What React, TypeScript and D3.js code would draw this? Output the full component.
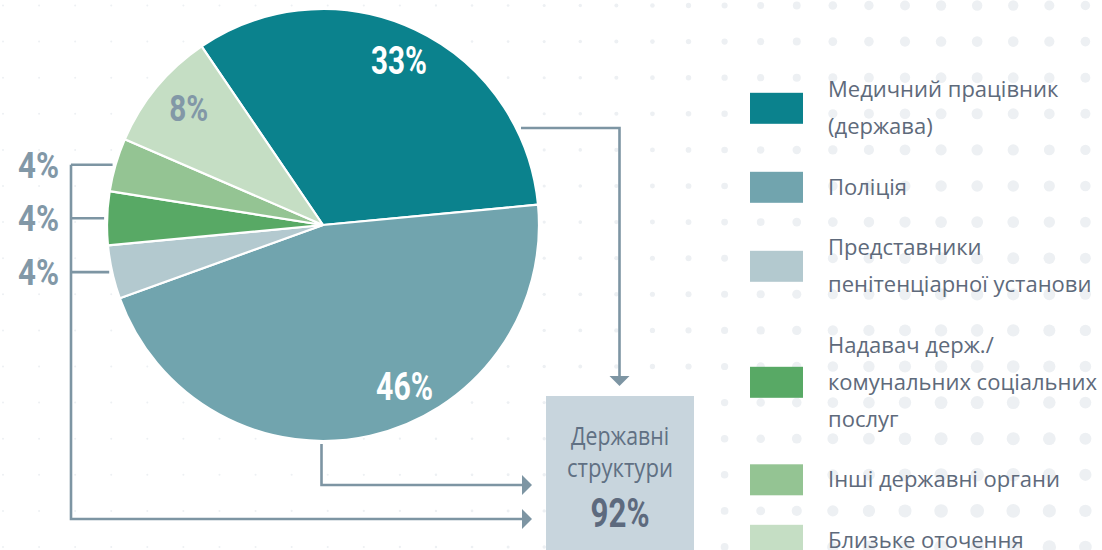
import React from 'react';
import * as d3 from 'd3';

// ---------- data ----------
const categories = [
  'Медичний працівник (держава)',
  'Поліція',
  'Представники пенітенціарної установи',
  'Надавач держ./комунальних соціальних послуг',
  'Інші державні органи',
  'Близьке оточення',
];
const legendLines = [
  ['Медичний працівник', '(держава)'],
  ['Поліція'],
  ['Представники', 'пенітенціарної установи'],
  ['Надавач держ./', 'комунальних соціальних', 'послуг'],
  ['Інші державні органи'],
  ['Близьке оточення'],
];
const shares = [33, 46, 4, 4, 4, 9];
const percentLabels = ['33%', '46%', '4%', '4%', '4%', '8%'];
const colors = ['#0b828d', '#71a4ae', '#b3c9cf', '#58a965', '#94c493', '#c5dec4'];
const insideLabel = [true, true, false, false, false, true];
const insideLabelColor = ['#ffffff', '#ffffff', '', '', '', '#8298a7'];
const totalTitle = ['Державні', 'структури'];
const totalValue = '92%';

// ---------- layout ----------
const W = 1102;
const H = 550;
const cx = 323;
const cy = 225;
const R = 216;
const startDeg = -34.2;
const lineColor = '#7d95a3';
const deg = Math.PI / 180;

export default function App() {
  const pie = d3
    .pie<number>()
    .sort(null)
    .value((d) => d)
    .startAngle(startDeg * deg)
    .endAngle(startDeg * deg + 2 * Math.PI);
  const arcs = pie(shares);
  const arc = d3.arc<d3.PieArcDatum<number>>().innerRadius(0).outerRadius(R);

  // background dots
  const dots: { x: number; y: number; r: number }[] = [];
  for (let i = 0; i <= 30; i++) {
    for (let j = 0; j <= 15; j++) {
      const x = 3 + 36.08 * i;
      const y = 5.5 + 36.1 * j;
      const fx = Math.exp(-Math.pow((x - 980) / 300, 2));
      const fy = 0.7 + 0.3 * (y / 550);
      dots.push({ x, y, r: 1 + 6 * fx * fy });
    }
  }

  const polar = (a: number, r: number) => [cx + r * Math.sin(a), cy - r * Math.cos(a)];

  // inside label placement (radius, angle shift in degrees)
  const labelRadius = [181, 181, 0, 0, 0, 178];
  const labelShift = [-0.4, -14.2, 0, 0, 0, 1.4];
  const labelSize = [38, 38, 0, 0, 0, 36.5];
  const labelLen = [56, 57, 0, 0, 0, 39];

  // outside (left) labels for small slices
  const bracketX = 71;
  const smallIdx = [4, 3, 2];
  const ticks = smallIdx.map((i) => {
    const a = (arcs[i].startAngle + arcs[i].endAngle) / 2;
    const [ex, ey] = polar(a, R);
    return { i, y: ey, xEnd: ex - 3 };
  });
  const bracketBottom = 519;
  const arrowTipX = 532;
  const arrowLen = 10;

  const policeY = 485;
  const medTopY = 128;
  const medStartX = 521;
  const boxX = 546;
  const boxW = 148;
  const boxTop = 396;
  const boxCx = boxX + boxW / 2;

  // legend
  const legX = 750;
  const legTextX = 828;
  const lineH = 37;
  const itemGap = 60.5;
  let base = 97.3;
  const legendItems = legendLines.map((lines, k) => {
    const baselines = lines.map((_, li) => base + li * lineH);
    const last = baselines[baselines.length - 1];
    const mid = (baselines[0] + last) / 2 - 7.5;
    base = last + itemGap;
    return { k, lines, baselines, mid };
  });

  const numFont = 'Roboto, "DejaVu Sans", sans-serif';
  const textFont = '"Open Sans", "Noto Sans", sans-serif';

  return (
    <svg
      width={W}
      height={H}
      style={{ position: 'absolute', left: 0, top: 0, display: 'block', background: '#fff' }}
    >
      <rect width={W} height={H} fill="#ffffff" />
      <g>
        {dots.map((d, k) => (
          <circle key={k} cx={d.x} cy={d.y} r={d.r} fill="#edf0f3" />
        ))}
      </g>

      {/* pie */}
      <g transform={`translate(${cx},${cy})`}>
        {arcs.map((a, i) => (
          <path key={i} d={arc(a) || ''} fill={colors[i]} stroke="#ffffff" strokeWidth={2.2} strokeLinejoin="round">
            <title>{categories[i]}</title>
          </path>
        ))}
      </g>

      {/* inside labels */}
      {arcs.map((a, i) => {
        if (!insideLabel[i]) return null;
        const ang = (a.startAngle + a.endAngle) / 2 + labelShift[i] * deg;
        const [lx, ly] = polar(ang, labelRadius[i]);
        return (
          <text
            key={i}
            x={lx}
            y={ly + labelSize[i] * 0.355}
            textAnchor="middle"
            fontFamily={numFont}
            fontWeight={700}
            fontSize={labelSize[i]}
            fill={insideLabelColor[i]}
            textLength={labelLen[i]}
            lengthAdjust="spacingAndGlyphs"
          >
            {percentLabels[i]}
          </text>
        );
      })}

      {/* connectors */}
      <g stroke={lineColor} strokeWidth={2.6} fill="none">
        {ticks.map((t) => (
          <line key={t.i} x1={bracketX} x2={t.xEnd} y1={t.y} y2={t.y} />
        ))}
        <polyline
          points={`${bracketX},${ticks[0].y} ${bracketX},${bracketBottom} ${arrowTipX - arrowLen},${bracketBottom}`}
        />
        <polyline
          points={`${cx - 1.5},${cy + R + 3} ${cx - 1.5},${policeY} ${arrowTipX - arrowLen},${policeY}`}
        />
        <polyline
          points={`${medStartX},${medTopY} ${boxCx - 0.5},${medTopY} ${boxCx - 0.5},${boxTop - 20}`}
        />
      </g>
      <g fill={lineColor}>
        <path d={`M${arrowTipX},${bracketBottom} L${arrowTipX - arrowLen},${bracketBottom - 10} L${arrowTipX - arrowLen},${bracketBottom + 10} Z`} />
        <path d={`M${arrowTipX},${policeY} L${arrowTipX - arrowLen},${policeY - 10} L${arrowTipX - arrowLen},${policeY + 10} Z`} />
        <path d={`M${boxCx - 0.5},${boxTop - 10} L${boxCx - 10.5},${boxTop - 20} L${boxCx + 9.5},${boxTop - 20} Z`} />
      </g>
      {ticks.map((t) => (
        <text
          key={t.i}
          x={bracketX - 12}
          y={t.y + 12.8}
          textAnchor="end"
          fontFamily={numFont}
          fontWeight={700}
          fontSize={36.5}
          fill="#8298a7"
          textLength={41}
          lengthAdjust="spacingAndGlyphs"
        >
          {percentLabels[t.i]}
        </text>
      ))}

      {/* total box */}
      <rect x={boxX} y={boxTop} width={boxW} height={H - boxTop + 10} fill="#c8d5dd" />
      <text x={boxCx} y={445} textAnchor="middle" fontFamily={textFont} fontWeight={400} fontSize={25} fill="#607083" textLength={98} lengthAdjust="spacingAndGlyphs">
        {totalTitle[0]}
      </text>
      <text x={boxCx} y={476.7} textAnchor="middle" fontFamily={textFont} fontWeight={400} fontSize={25} fill="#607083" textLength={106} lengthAdjust="spacingAndGlyphs">
        {totalTitle[1]}
      </text>
      <text x={boxCx} y={527} textAnchor="middle" fontFamily={numFont} fontWeight={700} fontSize={41} fill="#5d6a7e" textLength={59} lengthAdjust="spacingAndGlyphs">
        {totalValue}
      </text>

      {/* legend */}
      {legendItems.map((it) => (
        <g key={it.k}>
          <rect x={legX} y={it.mid - 15.5} width={53} height={31} fill={colors[it.k]} />
          {it.lines.map((ln, li) => (
            <text key={li} x={legTextX} y={it.baselines[li]} fontFamily={textFont} fontSize={22} fill="#5e6a7b">
              {ln}
            </text>
          ))}
        </g>
      ))}
    </svg>
  );
}
